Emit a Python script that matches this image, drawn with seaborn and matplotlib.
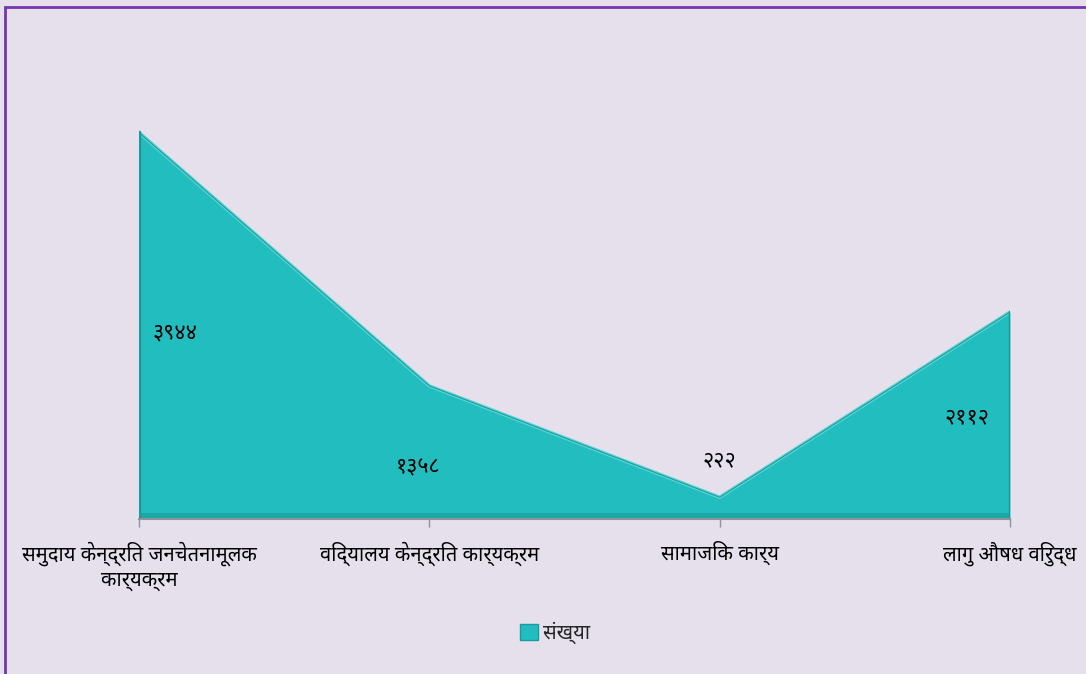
import matplotlib
matplotlib.use("Agg")
import matplotlib.pyplot as plt
from matplotlib import font_manager
from matplotlib.ft2font import FT2Font
from matplotlib.patches import Rectangle
import seaborn as sns
import pandas as pd

categories = ["समुदाय केन्द्रित जनचेतनामूलक\nकार्यक्रम",
              "विद्यालय केन्द्रित कार्यक्रम",
              "सामाजिक कार्य",
              "लागु औषध विरुद्ध"]
values = [3944, 1358, 222, 2112]
value_labels = ["३९४४", "१३५८", "२२२", "२११२"]
series_name = "संख्या"

# label offsets in pixels from (x, value/2)
label_offsets = [(36, -7), (-11, -15), (0, 47), (-43, -2)]


def find_devanagari_font():
    names = []
    for f in font_manager.fontManager.ttflist:
        try:
            cmap = FT2Font(f.fname).get_charmap()
        except Exception:
            continue
        if 0x0915 in cmap and 0x0966 in cmap:
            names.append(f.name)
    for pref in ["Noto Sans Devanagari", "Noto Serif Devanagari", "Lohit Devanagari"]:
        if pref in names:
            return pref
    return names[0] if names else None


sns.set_theme(style="white")
dev = find_devanagari_font()
fams = ([dev] if dev else []) + ["DejaVu Sans"]
plt.rcParams["font.family"] = fams

bg = "#E5E0EC"
teal = "#22BDBF"

fig = plt.figure(figsize=(10.86, 6.74), dpi=100, facecolor=bg)
ax = fig.add_axes([139 / 1086, 1 - 519 / 674, (1010 - 139) / 1086, (519 - 78) / 674])
ax.set_facecolor(bg)

df = pd.DataFrame({"pos": range(len(values)), "value": values})
ax.fill_between(df["pos"], 0, df["value"], color=teal, linewidth=0, zorder=2)
# darker band along the base, like the bevel in the original
ax.fill_between(df["pos"], 0, [min(v, 60) for v in values], color="#1CA7A9", linewidth=0, zorder=2)
sns.lineplot(data=df, x="pos", y="value", ax=ax, color="#5ED3D3", linewidth=2.5, zorder=3)
sns.lineplot(data=df, x="pos", y="value", ax=ax, color="#1B9EA0", linewidth=0.8, zorder=3)
ax.plot([0, 0], [0, values[0]], color="#1A9A9C", lw=2.5, zorder=3)
ax.plot([3, 3], [0, values[-1]], color="#1A9A9C", lw=2.5, zorder=3)

for i, (v, lab) in enumerate(zip(values, value_labels)):
    dx, dy = label_offsets[i]
    ax.annotate(lab, xy=(i, v / 2), xytext=(dx, dy), textcoords="offset pixels",
                ha="center", va="center", fontsize=15.5, color="black", zorder=5)

ax.set_xlim(0, len(values) - 1)
ax.set_ylim(0, 4500)
ax.set_xticks(range(len(values)))
ax.set_xticklabels(categories, fontsize=14.5, color="black", linespacing=1.3)
ax.set_yticks([])
ax.set_xlabel("")
ax.set_ylabel("")
for s in ["top", "right", "left"]:
    ax.spines[s].set_visible(False)
ax.spines["bottom"].set_color("#8C9499")
ax.spines["bottom"].set_linewidth(1.5)
ax.spines["bottom"].set_zorder(4)
ax.tick_params(axis="x", direction="out", length=6, width=1, color="#8C9499", pad=10, bottom=True)

handle = Rectangle((0, 0), 1, 1, facecolor=teal, edgecolor="#1A9A9C")
fig.legend([handle], [series_name], loc="center", bbox_to_anchor=(555 / 1086, 1 - 633 / 674),
           frameon=False, fontsize=14.5, handlelength=0.9, handleheight=0.9, handletextpad=0.2)

fig.patches.append(Rectangle((5 / 1086, -0.05), 1.1, 1 - 7 / 674 + 0.05, transform=fig.transFigure,
                             fill=False, edgecolor="#7436B0", linewidth=2, zorder=10))

fig.savefig("out.png", dpi=100, facecolor=bg)
